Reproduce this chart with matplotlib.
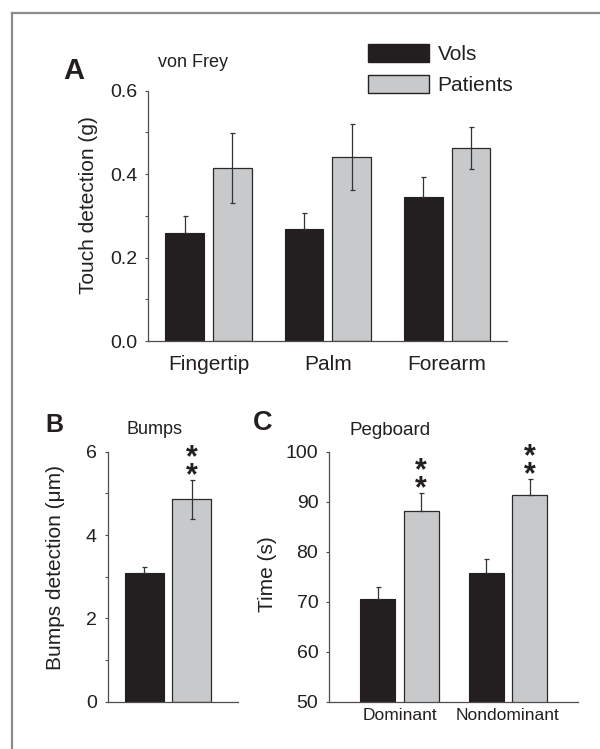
import numpy as np
import matplotlib
matplotlib.use("Agg")
import matplotlib.pyplot as plt
from matplotlib.lines import Line2D
from matplotlib.patches import Patch
from matplotlib.ticker import MultipleLocator

plt.rcParams['font.family'] = ['Liberation Sans', 'DejaVu Sans']

# data
sites = ['Fingertip', 'Palm', 'Forearm']
vf_vols = [0.258, 0.268, 0.345]
vf_vols_err = [0.042, 0.038, 0.049]
vf_pat = [0.415, 0.442, 0.463]
vf_pat_err = [0.084, 0.079, 0.051]

bumps_vols = [3.08]
bumps_vols_err = [0.15]
bumps_pat = [4.86]
bumps_pat_err = [0.47]

hands = ['Dominant', 'Nondominant']
peg_vols = [70.5, 75.7]
peg_vols_err = [2.4, 2.9]
peg_pat = [88.2, 91.3]
peg_pat_err = [3.6, 3.3]

BLACK = '#231f20'
GREY = '#c8c9cb'
AXC = '#4d4d4d'
TXT = '#231f20'

W = 0.325
OFF = 0.2

fig = plt.figure(figsize=(6, 7.49), dpi=100)

axA = fig.add_axes([0.2472, 0.5447, 0.5973, 0.3342])
axB = fig.add_axes([0.1795, 0.0631, 0.2167, 0.3338])
axC = fig.add_axes([0.5488, 0.0631, 0.4150, 0.3338])


def style(ax):
    for s in ['top', 'right']:
        ax.spines[s].set_visible(False)
    for s in ['left', 'bottom']:
        ax.spines[s].set_color(AXC)
        ax.spines[s].set_linewidth(0.9)
    ax.tick_params(axis='y', which='both', direction='out', length=2.4,
                   width=0.8, color=AXC, pad=5.5, labelsize=14,
                   labelcolor=TXT)
    ax.tick_params(axis='x', which='both', length=0, labelcolor=TXT)


def bars(ax, x, vols, vols_err, pat, pat_err, pat_both):
    x = np.asarray(x, dtype=float)
    ekw = dict(ecolor='#333333', elinewidth=0.9, capsize=1.8, capthick=0.9)
    ax.bar(x - OFF, vols, W, color=BLACK, edgecolor=BLACK, linewidth=0.8,
           yerr=[np.zeros(len(vols)), vols_err], error_kw=ekw, zorder=2)
    lower = pat_err if pat_both else np.zeros(len(pat))
    ax.bar(x + OFF, pat, W, color=GREY, edgecolor='#2a2a2a', linewidth=0.9,
           yerr=[lower, pat_err], error_kw=ekw, zorder=2)


def stars(ax, x, tops):
    for xi, t in zip(x, tops):
        ax.annotate('*\n*', xy=(xi + OFF, t), xytext=(0, -3.0),
                    textcoords='offset points', ha='center',
                    va='baseline', fontsize=22, fontweight='bold',
                    linespacing=0.45, color=TXT, annotation_clip=False)


# panel A
xa = np.arange(len(sites))
bars(axA, xa, vf_vols, vf_vols_err, vf_pat, vf_pat_err, True)
style(axA)
axA.set_xlim(-0.505, 2.5)
axA.set_ylim(0, 0.6)
axA.yaxis.set_major_locator(MultipleLocator(0.2))
axA.yaxis.set_minor_locator(MultipleLocator(0.1))
axA.yaxis.set_major_formatter(lambda v, p: '%.1f' % v)
axA.set_xticks(xa)
axA.set_xticklabels(sites, fontsize=15)
axA.tick_params(axis='x', pad=10)
axA.set_ylabel('Touch detection (g)', fontsize=15, color=TXT, va='center')
axA.yaxis.set_label_coords(-0.167, 0.543)

leg = axA.legend(handles=[Patch(facecolor=BLACK, edgecolor=BLACK, label='Vols'),
                          Patch(facecolor=GREY, edgecolor='#222222', linewidth=1.0,
                                label='Patients')],
                 loc='upper left', bbox_to_anchor=(0.6138, 1 - 44 / 749),
                 bbox_transform=fig.transFigure, frameon=False, fontsize=15,
                 handlelength=2.93, handleheight=0.96, handletextpad=0.4,
                 labelspacing=0.5, borderpad=0, borderaxespad=0)
for t in leg.get_texts():
    t.set_color(TXT)

# panel B
xb = np.arange(len(bumps_vols))
bars(axB, xb, bumps_vols, bumps_vols_err, bumps_pat, bumps_pat_err, True)
style(axB)
axB.set_xlim(-0.506, 0.585)
axB.set_ylim(0, 6)
axB.yaxis.set_major_locator(MultipleLocator(2))
axB.yaxis.set_minor_locator(MultipleLocator(1))
axB.set_xticks([])
axB.set_ylabel('Bumps detection (\u03bcm)', fontsize=15, color=TXT, va='center')
axB.yaxis.set_label_coords(-0.4015, 0.535)
stars(axB, xb, np.array(bumps_pat) + np.array(bumps_pat_err))

# panel C
xc = np.arange(len(hands))
bars(axC, xc, peg_vols, peg_vols_err, peg_pat, peg_pat_err, False)
style(axC)
axC.set_xlim(-0.647, 1.648)
axC.set_ylim(50, 100)
axC.yaxis.set_major_locator(MultipleLocator(10))
axC.set_xticks(xc)
axC.set_xticklabels(hands, fontsize=12.5)
axC.tick_params(axis='x', pad=4.5)
axC.set_ylabel('Time (s)', fontsize=15, color=TXT, va='center')
axC.yaxis.set_label_coords(-0.248, 0.511)
stars(axC, xc, np.array(peg_pat) + np.array(peg_pat_err))

# panel letters and titles
fig.text(0.1055, 1 - 79 / 749, 'A', fontsize=21, fontweight='bold', color=TXT,
         ha='left', va='baseline')
fig.text(0.075, 1 - 432.3 / 749, 'B', fontsize=18, fontweight='bold', color=TXT,
         ha='left', va='baseline')
fig.text(0.4212, 1 - 430 / 749, 'C', fontsize=19.5, fontweight='bold', color=TXT,
         ha='left', va='baseline')
fig.text(0.2638, 1 - 66.7 / 749, 'von Frey', fontsize=13, color=TXT,
         ha='left', va='baseline')
fig.text(0.2112, 1 - 434.3 / 749, 'Bumps', fontsize=13, color=TXT,
         ha='left', va='baseline')
fig.text(0.5833, 1 - 435 / 749, 'Pegboard', fontsize=13.5, color=TXT,
         ha='left', va='baseline')

# grey frame around the figure (left and top edges visible)
yb = 1 - 13 / 749
xl = 12 / 600
fig.add_artist(Line2D([xl, xl], [0, yb], transform=fig.transFigure,
                      color='#8c8c8c', lw=1.6))
fig.add_artist(Line2D([xl, 1], [yb, yb], transform=fig.transFigure,
                      color='#8c8c8c', lw=1.6))

fig.savefig('out.png', dpi=100)
